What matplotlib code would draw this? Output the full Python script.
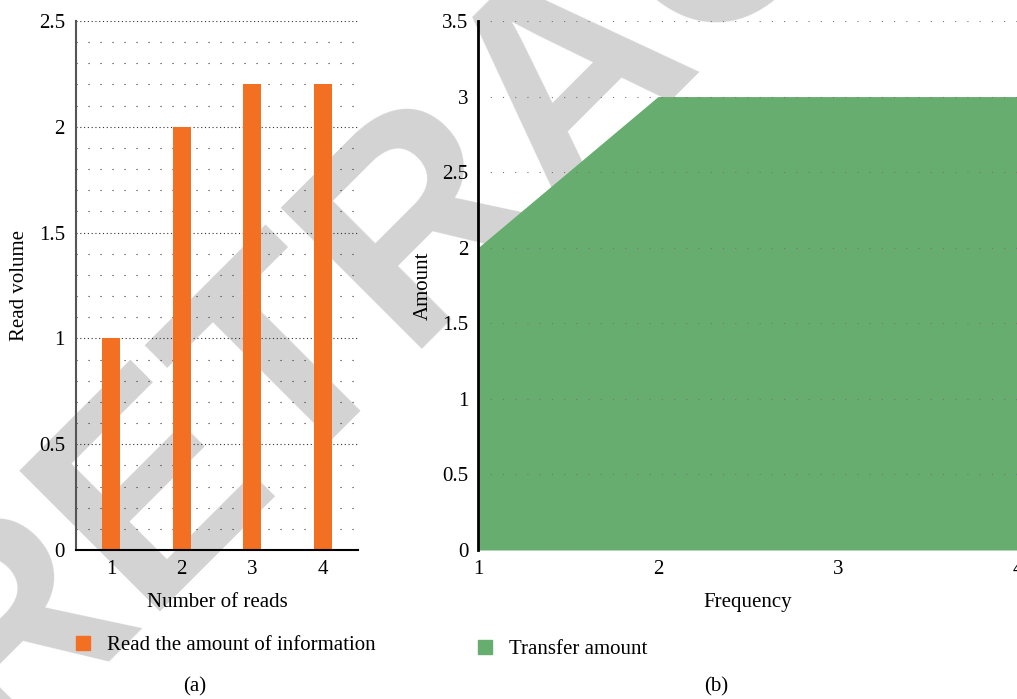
import matplotlib
matplotlib.use("Agg")
import matplotlib.pyplot as plt
from matplotlib.patches import Patch
import numpy as np

plt.rcParams['font.family'] = ['Liberation Serif', 'DejaVu Serif']
plt.rcParams['font.size'] = 15

# (a) reads vs read volume
reads = [1, 2, 3, 4]
read_volume = [1.0, 2.0, 2.2, 2.2]

# (b) frequency vs transfer amount
frequency = [1, 2, 3, 4]
transfer_amount = [2.0, 3.0, 3.0, 3.0]

orange = '#f36f21'
green = '#67ad6f'

fig = plt.figure(figsize=(10.17, 6.99), dpi=100)
W, H = 1017.0, 699.0

# watermark behind both panels
fig.text(626 / W, 1 - 126 / H, 'RETRACTED', rotation=45, rotation_mode='anchor',
         ha='center', va='baseline', fontsize=209, color='#d3d3d3',
         family='Liberation Sans', weight='bold', zorder=-1)

# ---- left panel: bar chart ----
ax1 = fig.add_axes([76 / W, 149 / H, 282 / W, 529 / H])
ax1.patch.set_alpha(0)
ax1.bar(reads, read_volume, width=0.25, color=orange, zorder=2)
ax1.set_xlim(0.5, 4.5)
ax1.set_ylim(0, 2.5)
ax1.set_xticks(reads)
ax1.set_yticks(np.arange(0, 2.51, 0.5))
ax1.set_yticklabels(['0', '0.5', '1', '1.5', '2', '2.5'])
ax1.set_yticks(np.arange(0, 2.51, 0.1), minor=True)
ax1.grid(axis='y', which='major', color='#333333', lw=0.8, ls=(0, (1, 2.4)))
ax1.grid(axis='y', which='minor', color='#333333', lw=0.8, ls=(0, (1, 9.8)))
ax1.set_axisbelow(True)
ax1.tick_params(which='both', length=0)
ax1.tick_params(axis='y', pad=8)
ax1.tick_params(axis='x', pad=7)
for s in ['top', 'right']:
    ax1.spines[s].set_visible(False)
ax1.spines['left'].set_color('#555555')
ax1.spines['left'].set_linewidth(1.5)
ax1.spines['bottom'].set_color('black')
ax1.spines['bottom'].set_linewidth(1.5)
ax1.set_xlabel('Number of reads', labelpad=10)
ax1.set_ylabel('Read volume', labelpad=7)
ax1.legend(handles=[Patch(color=orange, label='Read the amount of information')],
           loc='center left', bbox_to_anchor=(0, -0.181), frameon=False,
           borderpad=0, borderaxespad=0,
           handlelength=0.67, handleheight=0.67, handletextpad=0.82)
fig.text(195 / W, 1 - 687 / H, '(a)', ha='center', va='center')

# ---- right panel: area chart ----
ax2 = fig.add_axes([478 / W, 149 / H, 540 / W, 529 / H])
ax2.patch.set_alpha(0)
ax2.fill_between(frequency, transfer_amount, color=green, lw=0, zorder=1)
ax2.set_xlim(1, 4)
ax2.set_ylim(0, 3.5)
ax2.set_xticks(frequency)
ax2.set_yticks(np.arange(0, 3.51, 0.5))
ax2.set_yticklabels(['0', '0.5', '1', '1.5', '2', '2.5', '3', '3.5'])
ax2.grid(axis='y', color='#777777', lw=0.8, ls=(0, (1, 10)))
ax2.set_axisbelow(False)
ax2.tick_params(length=0)
ax2.tick_params(axis='y', pad=7)
ax2.tick_params(axis='x', pad=7)
for s in ['top', 'right', 'bottom']:
    ax2.spines[s].set_visible(False)
ax2.spines['left'].set_color('black')
ax2.spines['left'].set_linewidth(2)
ax2.spines['left'].set_zorder(3)
ax2.set_xlabel('Frequency', labelpad=10)
ax2.set_ylabel('Amount', labelpad=7)
ax2.legend(handles=[Patch(color=green, label='Transfer amount')],
           loc='center left', bbox_to_anchor=(0, -0.188), frameon=False,
           borderpad=0, borderaxespad=0,
           handlelength=0.67, handleheight=0.67, handletextpad=0.82)
fig.text(716 / W, 1 - 687 / H, '(b)', ha='center', va='center')

fig.savefig('out.png', dpi=100)
